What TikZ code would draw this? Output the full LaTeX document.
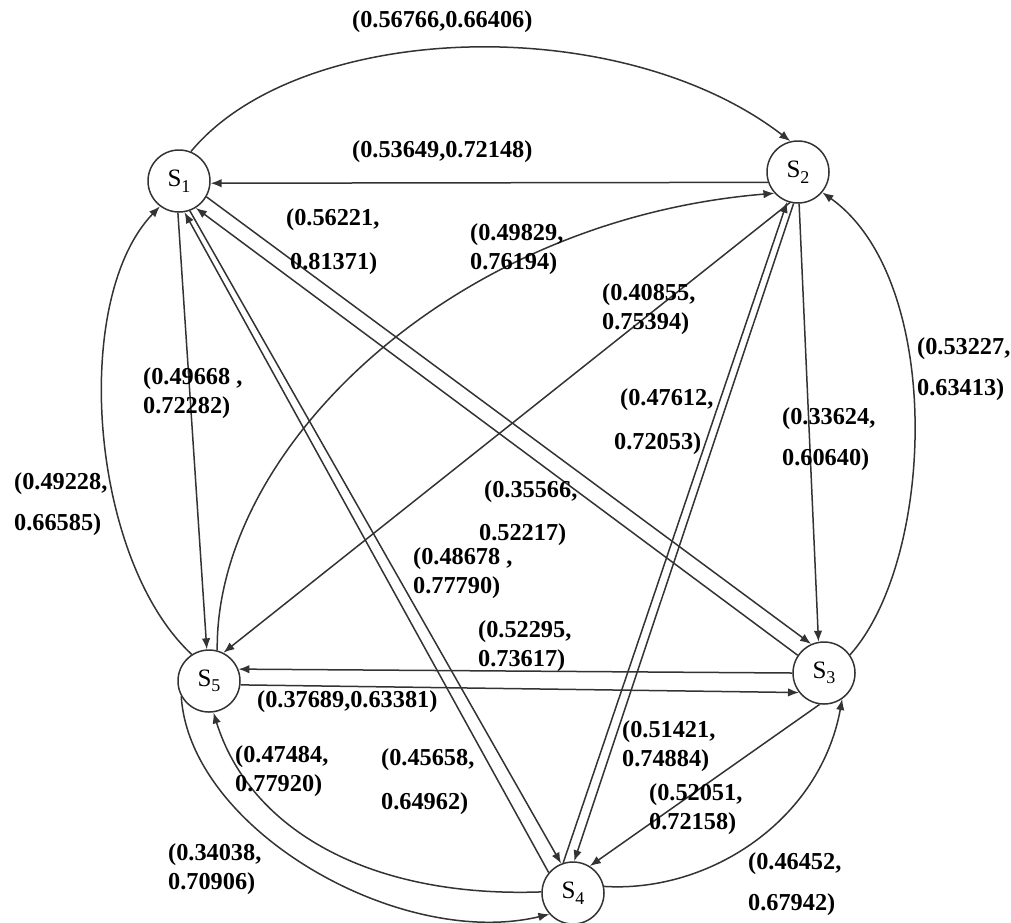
\documentclass[tikz,border=0pt]{standalone}
\usepackage{fontspec}
\setmainfont{Liberation Serif}
\usetikzlibrary{arrows.meta}
\newcommand\lblfont{\fontsize{24.3}{29}\selectfont\bfseries}
\newcommand\stfont{\fontsize{25}{25}\selectfont}
\newcommand\sname[1]{S\raisebox{-0.22em}{\fontsize{18}{18}\selectfont #1}}
\begin{document}
\begin{tikzpicture}[x=1pt,y=-1pt,
  st/.style={circle,draw=black!80,line width=1.5pt,minimum size=62pt,inner sep=0pt,font=\stfont},
  arr/.style={draw=black!80,line width=1.5pt,-{Latex[length=11pt,width=8.5pt]}},
  lbl/.style={font=\lblfont,align=left,inner sep=0pt,anchor=north west,text=black}]
\useasboundingbox (0,0) rectangle (1011,922);
% states
\node[st] (S1) at (179,181) {\sname{1}};
\node[st] (S2) at (798,172) {\sname{2}};
\node[st] (S3) at (824,673) {\sname{3}};
\node[st] (S4) at (573,893) {\sname{4}};
\node[st] (S5) at (209,681) {\sname{5}};
% connectors
\draw[arr] (S1.68) .. controls (300,20) and (620,10) .. (S2.104);
\draw[arr] (S2.199) -- (S1.356);
\draw[arr] (S1.330) -- (S3.114);
\draw[arr] (S3.146) -- (S1.302);
\draw[arr] (S1.290) -- (S4.112);
\draw[arr] (S4.140) -- (S1.280);
\draw[arr] (S1.268) -- (S5.94);
\draw[arr] (S5.123) .. controls (90,560) and (70,300) .. (S1.233);
\draw[arr] (S2.262) -- (S4.88);
\draw[arr] (S4.108) -- (S2.250);
\draw[arr] (S2.272) -- (S3.100);
\draw[arr] (S3.35) .. controls (935,560) and (945,280) .. (S2.320);
\draw[arr] (S2.255) -- (S5.63);
\draw[arr] (S5.75) .. controls (215,450) and (450,220) .. (S2.222);
\draw[arr] (S3.180) -- (S5.22);
\draw[arr] (S5.353) -- (S3.218);
\draw[arr] (S3.262) -- (S4.58);
\draw[arr] (S4.12) .. controls (710,893) and (820,820) .. (S3.305);
\draw[arr] (S4.178) .. controls (370,898) and (250,830) .. (S5.278);
\draw[arr] (S5.209) .. controls (190,830) and (400,950) .. (S4.222);
% labels
\node[lbl] (L1) at (352,10) {(0.56766,0.66406)};
\node[lbl] (L2) at (352,140) {(0.53649,0.72148)};
\node[lbl] (L3) at (286,208) {(0.56221,\\[15pt]\hspace*{4pt}0.81371)};
\node[lbl] (L4) at (470,223) {(0.49829,\\0.76194)};
\node[lbl] (L5) at (602,283) {(0.40855,\\0.75394)};
\node[lbl] (L6) at (917,337) {(0.53227,\\[12pt]0.63413)};
\node[lbl] (L7) at (620,388) {(0.47612,\\[15pt]\hspace*{-6pt}0.72053)};
\node[lbl] (L8) at (782,407) {(0.33624,\\[12pt]0.60640)};
\node[lbl] (L9) at (143,367) {(0.49668 ,\\0.72282)};
\node[lbl] (L10) at (14,472) {(0.49228,\\[12pt]0.66585)};
\node[lbl] (L11) at (484,480) {(0.35566,\\[14pt]\hspace*{-5pt}0.52217)};
\node[lbl] (L12) at (413,547) {(0.48678 ,\\0.77790)};
\node[lbl] (L13) at (478,620) {(0.52295,\\0.73617)};
\node[lbl] (L14) at (257,690) {(0.37689,0.63381)};
\node[lbl] (L15) at (622,720) {(0.51421,\\0.74884)};
\node[lbl] (L16) at (235,745) {(0.47484,\\0.77920)};
\node[lbl] (L17) at (381,748) {(0.45658,\\[15pt]0.64962)};
\node[lbl] (L18) at (649,783) {(0.52051,\\0.72158)};
\node[lbl] (L19) at (168,843) {(0.34038,\\0.70906)};
\node[lbl] (L20) at (748,852) {(0.46452,\\[12pt]0.67942)};
\end{tikzpicture}
\end{document}
